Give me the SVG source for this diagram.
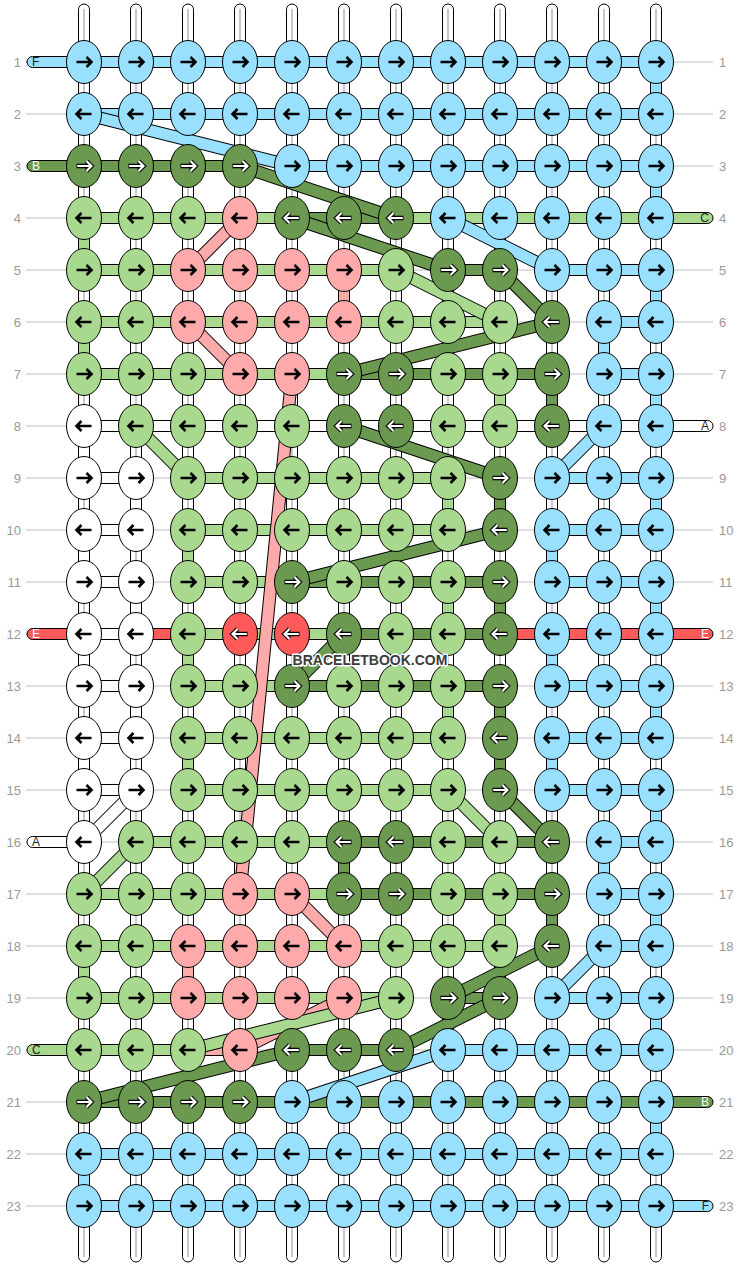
<svg xmlns="http://www.w3.org/2000/svg" width="740" height="1268" viewBox="0 0 740 1268">
<style>
.gl{stroke:#bdbdbd;stroke-width:1}
.wp{fill:#fff;stroke:#000;stroke-width:1}
.wc{stroke:#c8c8c8;stroke-width:2}
.s{stroke:#000;stroke-width:1}
.cA{fill:#fff}.cB{fill:#6a994f}.cC{fill:#a8d98f}.cD{fill:#ffaaaa}.cE{fill:#ff5a5a}.cF{fill:#99e0ff}
.dk{stroke:#000;stroke-width:13}
.dA{stroke:#fff;stroke-width:11}.dB{stroke:#6a994f;stroke-width:11}.dC{stroke:#a8d98f;stroke-width:11}.dD{stroke:#ffaaaa;stroke-width:11}.dF{stroke:#99e0ff;stroke-width:11}
.knots ellipse{stroke:#000;stroke-width:1}
.kA ellipse{fill:#fff}.kB ellipse{fill:#6a994f}.kC ellipse{fill:#a8d98f}.kD ellipse{fill:#ffaaaa}.kE ellipse{fill:#ff5a5a}.kF ellipse{fill:#99e0ff}
.lab{font-family:"Liberation Sans",Arial,sans-serif;font-size:13px;fill:#999}
.pt{font-family:"Liberation Sans",Arial,sans-serif;font-size:12px}
.wm{font-family:"Liberation Sans",Arial,sans-serif;font-size:14px;font-weight:bold;fill:#3c3c3c;stroke:#fff;stroke-width:3;paint-order:stroke;stroke-linejoin:round}
</style>
<defs>
<path id="R" d="M-7.5 0H7M2.5-5L7.5 0 2.5 5" fill="none" stroke="#000" stroke-width="2.6"/>
<path id="L" d="M7.5 0H-7M-2.5-5L-7.5 0-2.5 5" fill="none" stroke="#000" stroke-width="2.6"/>
<g id="Rw" fill="none"><path d="M-7.5 0H7M2.5-5L7.5 0 2.5 5" stroke="#000" stroke-width="4.4"/><path d="M-6.8 0H6.5M2.5-5L7.5 0 2.5 5" stroke="#fff" stroke-width="2.2"/></g>
<g id="Lw" fill="none"><path d="M7.5 0H-7M-2.5-5L-7.5 0-2.5 5" stroke="#000" stroke-width="4.4"/><path d="M6.8 0H-6.5M-2.5-5L-7.5 0-2.5 5" stroke="#fff" stroke-width="2.2"/></g>
</defs>
<rect width="740" height="1268" fill="#fff"/>
<g id="guides">
<line class="gl" x1="26" y1="62" x2="713" y2="62"/><line class="gl" x1="26" y1="114" x2="713" y2="114"/><line class="gl" x1="26" y1="166" x2="713" y2="166"/><line class="gl" x1="26" y1="218" x2="713" y2="218"/><line class="gl" x1="26" y1="270" x2="713" y2="270"/><line class="gl" x1="26" y1="322" x2="713" y2="322"/><line class="gl" x1="26" y1="374" x2="713" y2="374"/><line class="gl" x1="26" y1="426" x2="713" y2="426"/><line class="gl" x1="26" y1="478" x2="713" y2="478"/><line class="gl" x1="26" y1="530" x2="713" y2="530"/><line class="gl" x1="26" y1="582" x2="713" y2="582"/><line class="gl" x1="26" y1="634" x2="713" y2="634"/><line class="gl" x1="26" y1="686" x2="713" y2="686"/><line class="gl" x1="26" y1="738" x2="713" y2="738"/><line class="gl" x1="26" y1="790" x2="713" y2="790"/><line class="gl" x1="26" y1="842" x2="713" y2="842"/><line class="gl" x1="26" y1="894" x2="713" y2="894"/><line class="gl" x1="26" y1="946" x2="713" y2="946"/><line class="gl" x1="26" y1="998" x2="713" y2="998"/><line class="gl" x1="26" y1="1050" x2="713" y2="1050"/><line class="gl" x1="26" y1="1102" x2="713" y2="1102"/><line class="gl" x1="26" y1="1154" x2="713" y2="1154"/><line class="gl" x1="26" y1="1206" x2="713" y2="1206"/>
</g>
<g id="labels" class="lab">
<text x="21" y="66.5" text-anchor="end">1</text><text x="21" y="118.5" text-anchor="end">2</text><text x="21" y="170.5" text-anchor="end">3</text><text x="21" y="222.5" text-anchor="end">4</text><text x="21" y="274.5" text-anchor="end">5</text><text x="21" y="326.5" text-anchor="end">6</text><text x="21" y="378.5" text-anchor="end">7</text><text x="21" y="430.5" text-anchor="end">8</text><text x="21" y="482.5" text-anchor="end">9</text><text x="21" y="534.5" text-anchor="end">10</text><text x="21" y="586.5" text-anchor="end">11</text><text x="21" y="638.5" text-anchor="end">12</text><text x="21" y="690.5" text-anchor="end">13</text><text x="21" y="742.5" text-anchor="end">14</text><text x="21" y="794.5" text-anchor="end">15</text><text x="21" y="846.5" text-anchor="end">16</text><text x="21" y="898.5" text-anchor="end">17</text><text x="21" y="950.5" text-anchor="end">18</text><text x="21" y="1002.5" text-anchor="end">19</text><text x="21" y="1054.5" text-anchor="end">20</text><text x="21" y="1106.5" text-anchor="end">21</text><text x="21" y="1158.5" text-anchor="end">22</text><text x="21" y="1210.5" text-anchor="end">23</text>
<text x="719" y="66.5">1</text><text x="719" y="118.5">2</text><text x="719" y="170.5">3</text><text x="719" y="222.5">4</text><text x="719" y="274.5">5</text><text x="719" y="326.5">6</text><text x="719" y="378.5">7</text><text x="719" y="430.5">8</text><text x="719" y="482.5">9</text><text x="719" y="534.5">10</text><text x="719" y="586.5">11</text><text x="719" y="638.5">12</text><text x="719" y="690.5">13</text><text x="719" y="742.5">14</text><text x="719" y="794.5">15</text><text x="719" y="846.5">16</text><text x="719" y="898.5">17</text><text x="719" y="950.5">18</text><text x="719" y="1002.5">19</text><text x="719" y="1054.5">20</text><text x="719" y="1106.5">21</text><text x="719" y="1158.5">22</text><text x="719" y="1210.5">23</text>
</g>
<g id="warps">
<rect class="wp" x="78.5" y="4" width="11" height="1258" rx="5.5"/><rect class="wp" x="130.5" y="4" width="11" height="1258" rx="5.5"/><rect class="wp" x="182.5" y="4" width="11" height="1258" rx="5.5"/><rect class="wp" x="234.5" y="4" width="11" height="1258" rx="5.5"/><rect class="wp" x="286.5" y="4" width="11" height="1258" rx="5.5"/><rect class="wp" x="338.5" y="4" width="11" height="1258" rx="5.5"/><rect class="wp" x="390.5" y="4" width="11" height="1258" rx="5.5"/><rect class="wp" x="442.5" y="4" width="11" height="1258" rx="5.5"/><rect class="wp" x="494.5" y="4" width="11" height="1258" rx="5.5"/><rect class="wp" x="546.5" y="4" width="11" height="1258" rx="5.5"/><rect class="wp" x="598.5" y="4" width="11" height="1258" rx="5.5"/><rect class="wp" x="650.5" y="4" width="11" height="1258" rx="5.5"/>
<line class="wc" x1="84" y1="9" x2="84" y2="1257"/><line class="wc" x1="136" y1="9" x2="136" y2="1257"/><line class="wc" x1="188" y1="9" x2="188" y2="1257"/><line class="wc" x1="240" y1="9" x2="240" y2="1257"/><line class="wc" x1="292" y1="9" x2="292" y2="1257"/><line class="wc" x1="344" y1="9" x2="344" y2="1257"/><line class="wc" x1="396" y1="9" x2="396" y2="1257"/><line class="wc" x1="448" y1="9" x2="448" y2="1257"/><line class="wc" x1="500" y1="9" x2="500" y2="1257"/><line class="wc" x1="552" y1="9" x2="552" y2="1257"/><line class="wc" x1="604" y1="9" x2="604" y2="1257"/><line class="wc" x1="656" y1="9" x2="656" y2="1257"/>
</g>
<g id="connectors">
<g id="ends">
<rect class="cF s" x="27" y="56.5" width="70" height="11" rx="5.5"/><text class="pt" x="32" y="66.3" fill="#222">F</text>
<rect class="cB s" x="27" y="160.5" width="70" height="11" rx="5.5"/><text class="pt" x="32" y="170.3" fill="#fff">B</text>
<rect class="cE s" x="27" y="628.5" width="70" height="11" rx="5.5"/><text class="pt" x="32" y="638.3" fill="#fff">E</text>
<rect class="cA s" x="27" y="836.5" width="70" height="11" rx="5.5"/><text class="pt" x="32" y="846.3" fill="#222">A</text>
<rect class="cC s" x="27" y="1044.5" width="70" height="11" rx="5.5"/><text class="pt" x="32" y="1054.3" fill="#222">C</text>
<rect class="cC s" x="643" y="212.5" width="70" height="11" rx="5.5"/><text class="pt" x="709" y="222.3" text-anchor="end" fill="#222">C</text>
<rect class="cA s" x="643" y="420.5" width="70" height="11" rx="5.5"/><text class="pt" x="709" y="430.3" text-anchor="end" fill="#222">A</text>
<rect class="cE s" x="643" y="628.5" width="70" height="11" rx="5.5"/><text class="pt" x="709" y="638.3" text-anchor="end" fill="#fff">E</text>
<rect class="cB s" x="643" y="1096.5" width="70" height="11" rx="5.5"/><text class="pt" x="709" y="1106.3" text-anchor="end" fill="#fff">B</text>
<rect class="cF s" x="643" y="1200.5" width="70" height="11" rx="5.5"/><text class="pt" x="709" y="1210.3" text-anchor="end" fill="#222">F</text>
</g>
<g id="rows">
<rect class="cF s" x="84" y="56.5" width="572" height="11"/>
<rect class="cF s" x="84" y="108.5" width="572" height="11"/>
<rect class="cB s" x="84" y="160.5" width="156" height="11"/><rect class="cF s" x="292" y="160.5" width="364" height="11"/>
<rect class="cC s" x="84" y="212.5" width="572" height="11"/><rect class="cB s" x="292" y="212.5" width="104" height="11"/>
<rect class="cC s" x="84" y="264.5" width="312" height="11"/><rect class="cB s" x="448" y="264.5" width="52" height="11"/><rect class="cF s" x="552" y="264.5" width="104" height="11"/>
<rect class="cC s" x="84" y="316.5" width="416" height="11"/><rect class="cF s" x="604" y="316.5" width="52" height="11"/>
<rect class="cC s" x="84" y="368.5" width="260" height="11"/><rect class="cB s" x="344" y="368.5" width="208" height="11"/><rect class="cF s" x="604" y="368.5" width="52" height="11"/>
<rect class="cA s" x="84" y="420.5" width="572" height="11"/>
<rect class="cA s" x="84" y="472.5" width="52" height="11"/><rect class="cC s" x="188" y="472.5" width="260" height="11"/><rect class="cF s" x="552" y="472.5" width="104" height="11"/>
<rect class="cA s" x="84" y="524.5" width="52" height="11"/><rect class="cC s" x="188" y="524.5" width="260" height="11"/><rect class="cF s" x="552" y="524.5" width="104" height="11"/>
<rect class="cA s" x="84" y="576.5" width="52" height="11"/><rect class="cC s" x="188" y="576.5" width="104" height="11"/><rect class="cB s" x="292" y="576.5" width="208" height="11"/><rect class="cF s" x="552" y="576.5" width="104" height="11"/>
<rect class="cA s" x="84" y="628.5" width="52" height="11"/><rect class="cE s" x="136" y="628.5" width="52" height="11"/><rect class="cC s" x="188" y="628.5" width="156" height="11"/><rect class="cB s" x="344" y="628.5" width="156" height="11"/><rect class="cE s" x="500" y="628.5" width="156" height="11"/>
<rect class="cA s" x="84" y="680.5" width="52" height="11"/><rect class="cC s" x="188" y="680.5" width="104" height="11"/><rect class="cB s" x="292" y="680.5" width="208" height="11"/><rect class="cF s" x="552" y="680.5" width="104" height="11"/>
<rect class="cA s" x="84" y="732.5" width="52" height="11"/><rect class="cC s" x="188" y="732.5" width="260" height="11"/><rect class="cF s" x="552" y="732.5" width="104" height="11"/>
<rect class="cA s" x="84" y="784.5" width="52" height="11"/><rect class="cC s" x="188" y="784.5" width="260" height="11"/><rect class="cF s" x="552" y="784.5" width="104" height="11"/>
<rect class="cC s" x="136" y="836.5" width="208" height="11"/><rect class="cB s" x="344" y="836.5" width="208" height="11"/><rect class="cF s" x="604" y="836.5" width="52" height="11"/>
<rect class="cC s" x="84" y="888.5" width="260" height="11"/><rect class="cB s" x="344" y="888.5" width="208" height="11"/><rect class="cF s" x="604" y="888.5" width="52" height="11"/>
<rect class="cC s" x="84" y="940.5" width="416" height="11"/><rect class="cF s" x="604" y="940.5" width="52" height="11"/>
<rect class="cC s" x="84" y="992.5" width="312" height="11"/><rect class="cB s" x="448" y="992.5" width="52" height="11"/><rect class="cF s" x="552" y="992.5" width="104" height="11"/>
<rect class="cC s" x="84" y="1044.5" width="104" height="11"/><rect class="cD s" x="188" y="1044.5" width="52" height="11"/><rect class="cB s" x="292" y="1044.5" width="104" height="11"/><rect class="cF s" x="448" y="1044.5" width="208" height="11"/>
<rect class="cB s" x="84" y="1096.5" width="572" height="11"/>
<rect class="cF s" x="84" y="1148.5" width="572" height="11"/>
<rect class="cF s" x="84" y="1200.5" width="572" height="11"/>
</g>
<g id="verticals">
<rect class="cF s" x="650.5" y="62" width="11" height="52"/><rect class="cF s" x="650.5" y="166" width="11" height="52"/><rect class="cF s" x="650.5" y="270" width="11" height="52"/><rect class="cF s" x="598.5" y="322" width="11" height="52"/><rect class="cF s" x="650.5" y="374" width="11" height="52"/><rect class="cF s" x="650.5" y="478" width="11" height="52"/><rect class="cF s" x="546.5" y="530" width="11" height="52"/><rect class="cF s" x="650.5" y="582" width="11" height="52"/><rect class="cF s" x="546.5" y="634" width="11" height="52"/><rect class="cF s" x="650.5" y="686" width="11" height="52"/><rect class="cF s" x="546.5" y="738" width="11" height="52"/><rect class="cF s" x="650.5" y="790" width="11" height="52"/><rect class="cF s" x="598.5" y="842" width="11" height="52"/><rect class="cF s" x="650.5" y="894" width="11" height="52"/><rect class="cF s" x="650.5" y="998" width="11" height="52"/><rect class="cF s" x="650.5" y="1102" width="11" height="52"/><rect class="cF s" x="78.5" y="1154" width="11" height="52"/>
<rect class="cB s" x="546.5" y="374" width="11" height="52"/><rect class="cB s" x="494.5" y="478" width="11" height="52"/><rect class="cB s" x="494.5" y="582" width="11" height="52"/><rect class="cB s" x="494.5" y="686" width="11" height="104"/><rect class="cB s" x="338.5" y="842" width="11" height="52"/><rect class="cB s" x="546.5" y="894" width="11" height="52"/>
<rect class="cC s" x="78.5" y="218" width="11" height="52"/><rect class="cC s" x="78.5" y="322" width="11" height="52"/><rect class="cC s" x="494.5" y="374" width="11" height="52"/><rect class="cC s" x="442.5" y="478" width="11" height="52"/><rect class="cC s" x="182.5" y="530" width="11" height="52"/><rect class="cC s" x="442.5" y="582" width="11" height="52"/><rect class="cC s" x="182.5" y="634" width="11" height="52"/><rect class="cC s" x="442.5" y="686" width="11" height="52"/><rect class="cC s" x="182.5" y="738" width="11" height="52"/><rect class="cC s" x="494.5" y="894" width="11" height="52"/><rect class="cC s" x="78.5" y="946" width="11" height="52"/>
<rect class="cA s" x="78.5" y="426" width="11" height="52"/><rect class="cA s" x="130.5" y="478" width="11" height="52"/><rect class="cA s" x="78.5" y="530" width="11" height="52"/><rect class="cA s" x="130.5" y="582" width="11" height="52"/><rect class="cA s" x="78.5" y="634" width="11" height="52"/><rect class="cA s" x="130.5" y="686" width="11" height="52"/><rect class="cA s" x="78.5" y="738" width="11" height="52"/>
<rect class="cD s" x="338.5" y="270" width="11" height="52"/><rect class="cD s" x="182.5" y="946" width="11" height="52"/>
</g>
<g id="diagonals">
<line class="dk" x1="84" y1="114" x2="292" y2="166"/><line class="dF" x1="84" y1="114" x2="292" y2="166"/>
<line class="dk" x1="240" y1="166" x2="396" y2="218"/><line class="dB" x1="240" y1="166" x2="396" y2="218"/>
<line class="dk" x1="240" y1="218" x2="188" y2="270"/><line class="dD" x1="240" y1="218" x2="188" y2="270"/>
<line class="dk" x1="292" y1="218" x2="448" y2="270"/><line class="dB" x1="292" y1="218" x2="448" y2="270"/>
<line class="dk" x1="448" y1="218" x2="552" y2="270"/><line class="dF" x1="448" y1="218" x2="552" y2="270"/>
<line class="dk" x1="396" y1="270" x2="500" y2="322"/><line class="dC" x1="396" y1="270" x2="500" y2="322"/>
<line class="dk" x1="500" y1="270" x2="552" y2="322"/><line class="dB" x1="500" y1="270" x2="552" y2="322"/>
<line class="dk" x1="552" y1="322" x2="344" y2="374"/><line class="dB" x1="552" y1="322" x2="344" y2="374"/>
<line class="dk" x1="188" y1="322" x2="240" y2="374"/><line class="dD" x1="188" y1="322" x2="240" y2="374"/>
<line class="dk" x1="136" y1="426" x2="188" y2="478"/><line class="dC" x1="136" y1="426" x2="188" y2="478"/>
<line class="dk" x1="344" y1="426" x2="500" y2="478"/><line class="dB" x1="344" y1="426" x2="500" y2="478"/>
<line class="dk" x1="604" y1="426" x2="552" y2="478"/><line class="dF" x1="604" y1="426" x2="552" y2="478"/>
<line class="dk" x1="500" y1="530" x2="292" y2="582"/><line class="dB" x1="500" y1="530" x2="292" y2="582"/>
<line class="dk" x1="344" y1="634" x2="292" y2="686"/><line class="dB" x1="344" y1="634" x2="292" y2="686"/>
<line class="dk" x1="292" y1="374" x2="240" y2="894"/><line class="dD" x1="292" y1="374" x2="240" y2="894"/>
<line class="dk" x1="136" y1="790" x2="84" y2="842"/><line class="dA" x1="136" y1="790" x2="84" y2="842"/>
<line class="dk" x1="448" y1="790" x2="500" y2="842"/><line class="dC" x1="448" y1="790" x2="500" y2="842"/>
<line class="dk" x1="500" y1="790" x2="552" y2="842"/><line class="dB" x1="500" y1="790" x2="552" y2="842"/>
<line class="dk" x1="136" y1="842" x2="84" y2="894"/><line class="dC" x1="136" y1="842" x2="84" y2="894"/>
<line class="dk" x1="292" y1="894" x2="344" y2="946"/><line class="dD" x1="292" y1="894" x2="344" y2="946"/>
<line class="dk" x1="552" y1="946" x2="448" y2="998"/><line class="dB" x1="552" y1="946" x2="448" y2="998"/>
<line class="dk" x1="604" y1="946" x2="552" y2="998"/><line class="dF" x1="604" y1="946" x2="552" y2="998"/>
<line class="dk" x1="344" y1="998" x2="240" y2="1050"/><line class="dD" x1="344" y1="998" x2="240" y2="1050"/>
<line class="dk" x1="396" y1="998" x2="188" y2="1050"/><line class="dC" x1="396" y1="998" x2="188" y2="1050"/>
<line class="dk" x1="500" y1="998" x2="396" y2="1050"/><line class="dB" x1="500" y1="998" x2="396" y2="1050"/>
<line class="dk" x1="292" y1="1050" x2="84" y2="1102"/><line class="dB" x1="292" y1="1050" x2="84" y2="1102"/>
<line class="dk" x1="448" y1="1050" x2="292" y2="1102"/><line class="dF" x1="448" y1="1050" x2="292" y2="1102"/>
</g>
</g>
<g id="knots" class="knots">
<g id="k1-1" class="kF"><ellipse cx="84" cy="62" rx="17.5" ry="21.5"/><use href="#R" x="84" y="62"/></g>
<g id="k1-2" class="kF"><ellipse cx="136" cy="62" rx="17.5" ry="21.5"/><use href="#R" x="136" y="62"/></g>
<g id="k1-3" class="kF"><ellipse cx="188" cy="62" rx="17.5" ry="21.5"/><use href="#R" x="188" y="62"/></g>
<g id="k1-4" class="kF"><ellipse cx="240" cy="62" rx="17.5" ry="21.5"/><use href="#R" x="240" y="62"/></g>
<g id="k1-5" class="kF"><ellipse cx="292" cy="62" rx="17.5" ry="21.5"/><use href="#R" x="292" y="62"/></g>
<g id="k1-6" class="kF"><ellipse cx="344" cy="62" rx="17.5" ry="21.5"/><use href="#R" x="344" y="62"/></g>
<g id="k1-7" class="kF"><ellipse cx="396" cy="62" rx="17.5" ry="21.5"/><use href="#R" x="396" y="62"/></g>
<g id="k1-8" class="kF"><ellipse cx="448" cy="62" rx="17.5" ry="21.5"/><use href="#R" x="448" y="62"/></g>
<g id="k1-9" class="kF"><ellipse cx="500" cy="62" rx="17.5" ry="21.5"/><use href="#R" x="500" y="62"/></g>
<g id="k1-10" class="kF"><ellipse cx="552" cy="62" rx="17.5" ry="21.5"/><use href="#R" x="552" y="62"/></g>
<g id="k1-11" class="kF"><ellipse cx="604" cy="62" rx="17.5" ry="21.5"/><use href="#R" x="604" y="62"/></g>
<g id="k1-12" class="kF"><ellipse cx="656" cy="62" rx="17.5" ry="21.5"/><use href="#R" x="656" y="62"/></g>
<g id="k2-1" class="kF"><ellipse cx="84" cy="114" rx="17.5" ry="21.5"/><use href="#L" x="84" y="114"/></g>
<g id="k2-2" class="kF"><ellipse cx="136" cy="114" rx="17.5" ry="21.5"/><use href="#L" x="136" y="114"/></g>
<g id="k2-3" class="kF"><ellipse cx="188" cy="114" rx="17.5" ry="21.5"/><use href="#L" x="188" y="114"/></g>
<g id="k2-4" class="kF"><ellipse cx="240" cy="114" rx="17.5" ry="21.5"/><use href="#L" x="240" y="114"/></g>
<g id="k2-5" class="kF"><ellipse cx="292" cy="114" rx="17.5" ry="21.5"/><use href="#L" x="292" y="114"/></g>
<g id="k2-6" class="kF"><ellipse cx="344" cy="114" rx="17.5" ry="21.5"/><use href="#L" x="344" y="114"/></g>
<g id="k2-7" class="kF"><ellipse cx="396" cy="114" rx="17.5" ry="21.5"/><use href="#L" x="396" y="114"/></g>
<g id="k2-8" class="kF"><ellipse cx="448" cy="114" rx="17.5" ry="21.5"/><use href="#L" x="448" y="114"/></g>
<g id="k2-9" class="kF"><ellipse cx="500" cy="114" rx="17.5" ry="21.5"/><use href="#L" x="500" y="114"/></g>
<g id="k2-10" class="kF"><ellipse cx="552" cy="114" rx="17.5" ry="21.5"/><use href="#L" x="552" y="114"/></g>
<g id="k2-11" class="kF"><ellipse cx="604" cy="114" rx="17.5" ry="21.5"/><use href="#L" x="604" y="114"/></g>
<g id="k2-12" class="kF"><ellipse cx="656" cy="114" rx="17.5" ry="21.5"/><use href="#L" x="656" y="114"/></g>
<g id="k3-1" class="kB"><ellipse cx="84" cy="166" rx="17.5" ry="21.5"/><use href="#Rw" x="84" y="166"/></g>
<g id="k3-2" class="kB"><ellipse cx="136" cy="166" rx="17.5" ry="21.5"/><use href="#Rw" x="136" y="166"/></g>
<g id="k3-3" class="kB"><ellipse cx="188" cy="166" rx="17.5" ry="21.5"/><use href="#Rw" x="188" y="166"/></g>
<g id="k3-4" class="kB"><ellipse cx="240" cy="166" rx="17.5" ry="21.5"/><use href="#Rw" x="240" y="166"/></g>
<g id="k3-5" class="kF"><ellipse cx="292" cy="166" rx="17.5" ry="21.5"/><use href="#R" x="292" y="166"/></g>
<g id="k3-6" class="kF"><ellipse cx="344" cy="166" rx="17.5" ry="21.5"/><use href="#R" x="344" y="166"/></g>
<g id="k3-7" class="kF"><ellipse cx="396" cy="166" rx="17.5" ry="21.5"/><use href="#R" x="396" y="166"/></g>
<g id="k3-8" class="kF"><ellipse cx="448" cy="166" rx="17.5" ry="21.5"/><use href="#R" x="448" y="166"/></g>
<g id="k3-9" class="kF"><ellipse cx="500" cy="166" rx="17.5" ry="21.5"/><use href="#R" x="500" y="166"/></g>
<g id="k3-10" class="kF"><ellipse cx="552" cy="166" rx="17.5" ry="21.5"/><use href="#R" x="552" y="166"/></g>
<g id="k3-11" class="kF"><ellipse cx="604" cy="166" rx="17.5" ry="21.5"/><use href="#R" x="604" y="166"/></g>
<g id="k3-12" class="kF"><ellipse cx="656" cy="166" rx="17.5" ry="21.5"/><use href="#R" x="656" y="166"/></g>
<g id="k4-1" class="kC"><ellipse cx="84" cy="218" rx="17.5" ry="21.5"/><use href="#L" x="84" y="218"/></g>
<g id="k4-2" class="kC"><ellipse cx="136" cy="218" rx="17.5" ry="21.5"/><use href="#L" x="136" y="218"/></g>
<g id="k4-3" class="kC"><ellipse cx="188" cy="218" rx="17.5" ry="21.5"/><use href="#L" x="188" y="218"/></g>
<g id="k4-4" class="kD"><ellipse cx="240" cy="218" rx="17.5" ry="21.5"/><use href="#L" x="240" y="218"/></g>
<g id="k4-5" class="kB"><ellipse cx="292" cy="218" rx="17.5" ry="21.5"/><use href="#Lw" x="292" y="218"/></g>
<g id="k4-6" class="kB"><ellipse cx="344" cy="218" rx="17.5" ry="21.5"/><use href="#Lw" x="344" y="218"/></g>
<g id="k4-7" class="kB"><ellipse cx="396" cy="218" rx="17.5" ry="21.5"/><use href="#Lw" x="396" y="218"/></g>
<g id="k4-8" class="kF"><ellipse cx="448" cy="218" rx="17.5" ry="21.5"/><use href="#L" x="448" y="218"/></g>
<g id="k4-9" class="kF"><ellipse cx="500" cy="218" rx="17.5" ry="21.5"/><use href="#L" x="500" y="218"/></g>
<g id="k4-10" class="kF"><ellipse cx="552" cy="218" rx="17.5" ry="21.5"/><use href="#L" x="552" y="218"/></g>
<g id="k4-11" class="kF"><ellipse cx="604" cy="218" rx="17.5" ry="21.5"/><use href="#L" x="604" y="218"/></g>
<g id="k4-12" class="kF"><ellipse cx="656" cy="218" rx="17.5" ry="21.5"/><use href="#L" x="656" y="218"/></g>
<g id="k5-1" class="kC"><ellipse cx="84" cy="270" rx="17.5" ry="21.5"/><use href="#R" x="84" y="270"/></g>
<g id="k5-2" class="kC"><ellipse cx="136" cy="270" rx="17.5" ry="21.5"/><use href="#R" x="136" y="270"/></g>
<g id="k5-3" class="kD"><ellipse cx="188" cy="270" rx="17.5" ry="21.5"/><use href="#R" x="188" y="270"/></g>
<g id="k5-4" class="kD"><ellipse cx="240" cy="270" rx="17.5" ry="21.5"/><use href="#R" x="240" y="270"/></g>
<g id="k5-5" class="kD"><ellipse cx="292" cy="270" rx="17.5" ry="21.5"/><use href="#R" x="292" y="270"/></g>
<g id="k5-6" class="kD"><ellipse cx="344" cy="270" rx="17.5" ry="21.5"/><use href="#R" x="344" y="270"/></g>
<g id="k5-7" class="kC"><ellipse cx="396" cy="270" rx="17.5" ry="21.5"/><use href="#R" x="396" y="270"/></g>
<g id="k5-8" class="kB"><ellipse cx="448" cy="270" rx="17.5" ry="21.5"/><use href="#Rw" x="448" y="270"/></g>
<g id="k5-9" class="kB"><ellipse cx="500" cy="270" rx="17.5" ry="21.5"/><use href="#Rw" x="500" y="270"/></g>
<g id="k5-10" class="kF"><ellipse cx="552" cy="270" rx="17.5" ry="21.5"/><use href="#R" x="552" y="270"/></g>
<g id="k5-11" class="kF"><ellipse cx="604" cy="270" rx="17.5" ry="21.5"/><use href="#R" x="604" y="270"/></g>
<g id="k5-12" class="kF"><ellipse cx="656" cy="270" rx="17.5" ry="21.5"/><use href="#R" x="656" y="270"/></g>
<g id="k6-1" class="kC"><ellipse cx="84" cy="322" rx="17.5" ry="21.5"/><use href="#L" x="84" y="322"/></g>
<g id="k6-2" class="kC"><ellipse cx="136" cy="322" rx="17.5" ry="21.5"/><use href="#L" x="136" y="322"/></g>
<g id="k6-3" class="kD"><ellipse cx="188" cy="322" rx="17.5" ry="21.5"/><use href="#L" x="188" y="322"/></g>
<g id="k6-4" class="kD"><ellipse cx="240" cy="322" rx="17.5" ry="21.5"/><use href="#L" x="240" y="322"/></g>
<g id="k6-5" class="kD"><ellipse cx="292" cy="322" rx="17.5" ry="21.5"/><use href="#L" x="292" y="322"/></g>
<g id="k6-6" class="kD"><ellipse cx="344" cy="322" rx="17.5" ry="21.5"/><use href="#L" x="344" y="322"/></g>
<g id="k6-7" class="kC"><ellipse cx="396" cy="322" rx="17.5" ry="21.5"/><use href="#L" x="396" y="322"/></g>
<g id="k6-8" class="kC"><ellipse cx="448" cy="322" rx="17.5" ry="21.5"/><use href="#L" x="448" y="322"/></g>
<g id="k6-9" class="kC"><ellipse cx="500" cy="322" rx="17.5" ry="21.5"/><use href="#L" x="500" y="322"/></g>
<g id="k6-10" class="kB"><ellipse cx="552" cy="322" rx="17.5" ry="21.5"/><use href="#Lw" x="552" y="322"/></g>
<g id="k6-11" class="kF"><ellipse cx="604" cy="322" rx="17.5" ry="21.5"/><use href="#L" x="604" y="322"/></g>
<g id="k6-12" class="kF"><ellipse cx="656" cy="322" rx="17.5" ry="21.5"/><use href="#L" x="656" y="322"/></g>
<g id="k7-1" class="kC"><ellipse cx="84" cy="374" rx="17.5" ry="21.5"/><use href="#R" x="84" y="374"/></g>
<g id="k7-2" class="kC"><ellipse cx="136" cy="374" rx="17.5" ry="21.5"/><use href="#R" x="136" y="374"/></g>
<g id="k7-3" class="kC"><ellipse cx="188" cy="374" rx="17.5" ry="21.5"/><use href="#R" x="188" y="374"/></g>
<g id="k7-4" class="kD"><ellipse cx="240" cy="374" rx="17.5" ry="21.5"/><use href="#R" x="240" y="374"/></g>
<g id="k7-5" class="kD"><ellipse cx="292" cy="374" rx="17.5" ry="21.5"/><use href="#R" x="292" y="374"/></g>
<g id="k7-6" class="kB"><ellipse cx="344" cy="374" rx="17.5" ry="21.5"/><use href="#Rw" x="344" y="374"/></g>
<g id="k7-7" class="kB"><ellipse cx="396" cy="374" rx="17.5" ry="21.5"/><use href="#Rw" x="396" y="374"/></g>
<g id="k7-8" class="kC"><ellipse cx="448" cy="374" rx="17.5" ry="21.5"/><use href="#R" x="448" y="374"/></g>
<g id="k7-9" class="kC"><ellipse cx="500" cy="374" rx="17.5" ry="21.5"/><use href="#R" x="500" y="374"/></g>
<g id="k7-10" class="kB"><ellipse cx="552" cy="374" rx="17.5" ry="21.5"/><use href="#Rw" x="552" y="374"/></g>
<g id="k7-11" class="kF"><ellipse cx="604" cy="374" rx="17.5" ry="21.5"/><use href="#R" x="604" y="374"/></g>
<g id="k7-12" class="kF"><ellipse cx="656" cy="374" rx="17.5" ry="21.5"/><use href="#R" x="656" y="374"/></g>
<g id="k8-1" class="kA"><ellipse cx="84" cy="426" rx="17.5" ry="21.5"/><use href="#L" x="84" y="426"/></g>
<g id="k8-2" class="kC"><ellipse cx="136" cy="426" rx="17.5" ry="21.5"/><use href="#L" x="136" y="426"/></g>
<g id="k8-3" class="kC"><ellipse cx="188" cy="426" rx="17.5" ry="21.5"/><use href="#L" x="188" y="426"/></g>
<g id="k8-4" class="kC"><ellipse cx="240" cy="426" rx="17.5" ry="21.5"/><use href="#L" x="240" y="426"/></g>
<g id="k8-5" class="kC"><ellipse cx="292" cy="426" rx="17.5" ry="21.5"/><use href="#L" x="292" y="426"/></g>
<g id="k8-6" class="kB"><ellipse cx="344" cy="426" rx="17.5" ry="21.5"/><use href="#Lw" x="344" y="426"/></g>
<g id="k8-7" class="kB"><ellipse cx="396" cy="426" rx="17.5" ry="21.5"/><use href="#Lw" x="396" y="426"/></g>
<g id="k8-8" class="kC"><ellipse cx="448" cy="426" rx="17.5" ry="21.5"/><use href="#L" x="448" y="426"/></g>
<g id="k8-9" class="kC"><ellipse cx="500" cy="426" rx="17.5" ry="21.5"/><use href="#L" x="500" y="426"/></g>
<g id="k8-10" class="kB"><ellipse cx="552" cy="426" rx="17.5" ry="21.5"/><use href="#Lw" x="552" y="426"/></g>
<g id="k8-11" class="kF"><ellipse cx="604" cy="426" rx="17.5" ry="21.5"/><use href="#L" x="604" y="426"/></g>
<g id="k8-12" class="kF"><ellipse cx="656" cy="426" rx="17.5" ry="21.5"/><use href="#L" x="656" y="426"/></g>
<g id="k9-1" class="kA"><ellipse cx="84" cy="478" rx="17.5" ry="21.5"/><use href="#R" x="84" y="478"/></g>
<g id="k9-2" class="kA"><ellipse cx="136" cy="478" rx="17.5" ry="21.5"/><use href="#R" x="136" y="478"/></g>
<g id="k9-3" class="kC"><ellipse cx="188" cy="478" rx="17.5" ry="21.5"/><use href="#R" x="188" y="478"/></g>
<g id="k9-4" class="kC"><ellipse cx="240" cy="478" rx="17.5" ry="21.5"/><use href="#R" x="240" y="478"/></g>
<g id="k9-5" class="kC"><ellipse cx="292" cy="478" rx="17.5" ry="21.5"/><use href="#R" x="292" y="478"/></g>
<g id="k9-6" class="kC"><ellipse cx="344" cy="478" rx="17.5" ry="21.5"/><use href="#R" x="344" y="478"/></g>
<g id="k9-7" class="kC"><ellipse cx="396" cy="478" rx="17.5" ry="21.5"/><use href="#R" x="396" y="478"/></g>
<g id="k9-8" class="kC"><ellipse cx="448" cy="478" rx="17.5" ry="21.5"/><use href="#R" x="448" y="478"/></g>
<g id="k9-9" class="kB"><ellipse cx="500" cy="478" rx="17.5" ry="21.5"/><use href="#Rw" x="500" y="478"/></g>
<g id="k9-10" class="kF"><ellipse cx="552" cy="478" rx="17.5" ry="21.5"/><use href="#R" x="552" y="478"/></g>
<g id="k9-11" class="kF"><ellipse cx="604" cy="478" rx="17.5" ry="21.5"/><use href="#R" x="604" y="478"/></g>
<g id="k9-12" class="kF"><ellipse cx="656" cy="478" rx="17.5" ry="21.5"/><use href="#R" x="656" y="478"/></g>
<g id="k10-1" class="kA"><ellipse cx="84" cy="530" rx="17.5" ry="21.5"/><use href="#L" x="84" y="530"/></g>
<g id="k10-2" class="kA"><ellipse cx="136" cy="530" rx="17.5" ry="21.5"/><use href="#L" x="136" y="530"/></g>
<g id="k10-3" class="kC"><ellipse cx="188" cy="530" rx="17.5" ry="21.5"/><use href="#L" x="188" y="530"/></g>
<g id="k10-4" class="kC"><ellipse cx="240" cy="530" rx="17.5" ry="21.5"/><use href="#L" x="240" y="530"/></g>
<g id="k10-5" class="kC"><ellipse cx="292" cy="530" rx="17.5" ry="21.5"/><use href="#L" x="292" y="530"/></g>
<g id="k10-6" class="kC"><ellipse cx="344" cy="530" rx="17.5" ry="21.5"/><use href="#L" x="344" y="530"/></g>
<g id="k10-7" class="kC"><ellipse cx="396" cy="530" rx="17.5" ry="21.5"/><use href="#L" x="396" y="530"/></g>
<g id="k10-8" class="kC"><ellipse cx="448" cy="530" rx="17.5" ry="21.5"/><use href="#L" x="448" y="530"/></g>
<g id="k10-9" class="kB"><ellipse cx="500" cy="530" rx="17.5" ry="21.5"/><use href="#Lw" x="500" y="530"/></g>
<g id="k10-10" class="kF"><ellipse cx="552" cy="530" rx="17.5" ry="21.5"/><use href="#L" x="552" y="530"/></g>
<g id="k10-11" class="kF"><ellipse cx="604" cy="530" rx="17.5" ry="21.5"/><use href="#L" x="604" y="530"/></g>
<g id="k10-12" class="kF"><ellipse cx="656" cy="530" rx="17.5" ry="21.5"/><use href="#L" x="656" y="530"/></g>
<g id="k11-1" class="kA"><ellipse cx="84" cy="582" rx="17.5" ry="21.5"/><use href="#R" x="84" y="582"/></g>
<g id="k11-2" class="kA"><ellipse cx="136" cy="582" rx="17.5" ry="21.5"/><use href="#R" x="136" y="582"/></g>
<g id="k11-3" class="kC"><ellipse cx="188" cy="582" rx="17.5" ry="21.5"/><use href="#R" x="188" y="582"/></g>
<g id="k11-4" class="kC"><ellipse cx="240" cy="582" rx="17.5" ry="21.5"/><use href="#R" x="240" y="582"/></g>
<g id="k11-5" class="kB"><ellipse cx="292" cy="582" rx="17.5" ry="21.5"/><use href="#Rw" x="292" y="582"/></g>
<g id="k11-6" class="kC"><ellipse cx="344" cy="582" rx="17.5" ry="21.5"/><use href="#R" x="344" y="582"/></g>
<g id="k11-7" class="kC"><ellipse cx="396" cy="582" rx="17.5" ry="21.5"/><use href="#R" x="396" y="582"/></g>
<g id="k11-8" class="kC"><ellipse cx="448" cy="582" rx="17.5" ry="21.5"/><use href="#R" x="448" y="582"/></g>
<g id="k11-9" class="kB"><ellipse cx="500" cy="582" rx="17.5" ry="21.5"/><use href="#Rw" x="500" y="582"/></g>
<g id="k11-10" class="kF"><ellipse cx="552" cy="582" rx="17.5" ry="21.5"/><use href="#R" x="552" y="582"/></g>
<g id="k11-11" class="kF"><ellipse cx="604" cy="582" rx="17.5" ry="21.5"/><use href="#R" x="604" y="582"/></g>
<g id="k11-12" class="kF"><ellipse cx="656" cy="582" rx="17.5" ry="21.5"/><use href="#R" x="656" y="582"/></g>
<g id="k12-1" class="kA"><ellipse cx="84" cy="634" rx="17.5" ry="21.5"/><use href="#L" x="84" y="634"/></g>
<g id="k12-2" class="kA"><ellipse cx="136" cy="634" rx="17.5" ry="21.5"/><use href="#L" x="136" y="634"/></g>
<g id="k12-3" class="kC"><ellipse cx="188" cy="634" rx="17.5" ry="21.5"/><use href="#L" x="188" y="634"/></g>
<g id="k12-4" class="kE"><ellipse cx="240" cy="634" rx="17.5" ry="21.5"/><use href="#Lw" x="240" y="634"/></g>
<g id="k12-5" class="kE"><ellipse cx="292" cy="634" rx="17.5" ry="21.5"/><use href="#Lw" x="292" y="634"/></g>
<g id="k12-6" class="kB"><ellipse cx="344" cy="634" rx="17.5" ry="21.5"/><use href="#Lw" x="344" y="634"/></g>
<g id="k12-7" class="kC"><ellipse cx="396" cy="634" rx="17.5" ry="21.5"/><use href="#L" x="396" y="634"/></g>
<g id="k12-8" class="kC"><ellipse cx="448" cy="634" rx="17.5" ry="21.5"/><use href="#L" x="448" y="634"/></g>
<g id="k12-9" class="kB"><ellipse cx="500" cy="634" rx="17.5" ry="21.5"/><use href="#Lw" x="500" y="634"/></g>
<g id="k12-10" class="kF"><ellipse cx="552" cy="634" rx="17.5" ry="21.5"/><use href="#L" x="552" y="634"/></g>
<g id="k12-11" class="kF"><ellipse cx="604" cy="634" rx="17.5" ry="21.5"/><use href="#L" x="604" y="634"/></g>
<g id="k12-12" class="kF"><ellipse cx="656" cy="634" rx="17.5" ry="21.5"/><use href="#L" x="656" y="634"/></g>
<g id="k13-1" class="kA"><ellipse cx="84" cy="686" rx="17.5" ry="21.5"/><use href="#R" x="84" y="686"/></g>
<g id="k13-2" class="kA"><ellipse cx="136" cy="686" rx="17.5" ry="21.5"/><use href="#R" x="136" y="686"/></g>
<g id="k13-3" class="kC"><ellipse cx="188" cy="686" rx="17.5" ry="21.5"/><use href="#R" x="188" y="686"/></g>
<g id="k13-4" class="kC"><ellipse cx="240" cy="686" rx="17.5" ry="21.5"/><use href="#R" x="240" y="686"/></g>
<g id="k13-5" class="kB"><ellipse cx="292" cy="686" rx="17.5" ry="21.5"/><use href="#Rw" x="292" y="686"/></g>
<g id="k13-6" class="kC"><ellipse cx="344" cy="686" rx="17.5" ry="21.5"/><use href="#R" x="344" y="686"/></g>
<g id="k13-7" class="kC"><ellipse cx="396" cy="686" rx="17.5" ry="21.5"/><use href="#R" x="396" y="686"/></g>
<g id="k13-8" class="kC"><ellipse cx="448" cy="686" rx="17.5" ry="21.5"/><use href="#R" x="448" y="686"/></g>
<g id="k13-9" class="kB"><ellipse cx="500" cy="686" rx="17.5" ry="21.5"/><use href="#Rw" x="500" y="686"/></g>
<g id="k13-10" class="kF"><ellipse cx="552" cy="686" rx="17.5" ry="21.5"/><use href="#R" x="552" y="686"/></g>
<g id="k13-11" class="kF"><ellipse cx="604" cy="686" rx="17.5" ry="21.5"/><use href="#R" x="604" y="686"/></g>
<g id="k13-12" class="kF"><ellipse cx="656" cy="686" rx="17.5" ry="21.5"/><use href="#R" x="656" y="686"/></g>
<g id="k14-1" class="kA"><ellipse cx="84" cy="738" rx="17.5" ry="21.5"/><use href="#L" x="84" y="738"/></g>
<g id="k14-2" class="kA"><ellipse cx="136" cy="738" rx="17.5" ry="21.5"/><use href="#L" x="136" y="738"/></g>
<g id="k14-3" class="kC"><ellipse cx="188" cy="738" rx="17.5" ry="21.5"/><use href="#L" x="188" y="738"/></g>
<g id="k14-4" class="kC"><ellipse cx="240" cy="738" rx="17.5" ry="21.5"/><use href="#L" x="240" y="738"/></g>
<g id="k14-5" class="kC"><ellipse cx="292" cy="738" rx="17.5" ry="21.5"/><use href="#L" x="292" y="738"/></g>
<g id="k14-6" class="kC"><ellipse cx="344" cy="738" rx="17.5" ry="21.5"/><use href="#L" x="344" y="738"/></g>
<g id="k14-7" class="kC"><ellipse cx="396" cy="738" rx="17.5" ry="21.5"/><use href="#L" x="396" y="738"/></g>
<g id="k14-8" class="kC"><ellipse cx="448" cy="738" rx="17.5" ry="21.5"/><use href="#L" x="448" y="738"/></g>
<g id="k14-9" class="kB"><ellipse cx="500" cy="738" rx="17.5" ry="21.5"/><use href="#Lw" x="500" y="738"/></g>
<g id="k14-10" class="kF"><ellipse cx="552" cy="738" rx="17.5" ry="21.5"/><use href="#L" x="552" y="738"/></g>
<g id="k14-11" class="kF"><ellipse cx="604" cy="738" rx="17.5" ry="21.5"/><use href="#L" x="604" y="738"/></g>
<g id="k14-12" class="kF"><ellipse cx="656" cy="738" rx="17.5" ry="21.5"/><use href="#L" x="656" y="738"/></g>
<g id="k15-1" class="kA"><ellipse cx="84" cy="790" rx="17.5" ry="21.5"/><use href="#R" x="84" y="790"/></g>
<g id="k15-2" class="kA"><ellipse cx="136" cy="790" rx="17.5" ry="21.5"/><use href="#R" x="136" y="790"/></g>
<g id="k15-3" class="kC"><ellipse cx="188" cy="790" rx="17.5" ry="21.5"/><use href="#R" x="188" y="790"/></g>
<g id="k15-4" class="kC"><ellipse cx="240" cy="790" rx="17.5" ry="21.5"/><use href="#R" x="240" y="790"/></g>
<g id="k15-5" class="kC"><ellipse cx="292" cy="790" rx="17.5" ry="21.5"/><use href="#R" x="292" y="790"/></g>
<g id="k15-6" class="kC"><ellipse cx="344" cy="790" rx="17.5" ry="21.5"/><use href="#R" x="344" y="790"/></g>
<g id="k15-7" class="kC"><ellipse cx="396" cy="790" rx="17.5" ry="21.5"/><use href="#R" x="396" y="790"/></g>
<g id="k15-8" class="kC"><ellipse cx="448" cy="790" rx="17.5" ry="21.5"/><use href="#R" x="448" y="790"/></g>
<g id="k15-9" class="kB"><ellipse cx="500" cy="790" rx="17.5" ry="21.5"/><use href="#Rw" x="500" y="790"/></g>
<g id="k15-10" class="kF"><ellipse cx="552" cy="790" rx="17.5" ry="21.5"/><use href="#R" x="552" y="790"/></g>
<g id="k15-11" class="kF"><ellipse cx="604" cy="790" rx="17.5" ry="21.5"/><use href="#R" x="604" y="790"/></g>
<g id="k15-12" class="kF"><ellipse cx="656" cy="790" rx="17.5" ry="21.5"/><use href="#R" x="656" y="790"/></g>
<g id="k16-1" class="kA"><ellipse cx="84" cy="842" rx="17.5" ry="21.5"/><use href="#L" x="84" y="842"/></g>
<g id="k16-2" class="kC"><ellipse cx="136" cy="842" rx="17.5" ry="21.5"/><use href="#L" x="136" y="842"/></g>
<g id="k16-3" class="kC"><ellipse cx="188" cy="842" rx="17.5" ry="21.5"/><use href="#L" x="188" y="842"/></g>
<g id="k16-4" class="kC"><ellipse cx="240" cy="842" rx="17.5" ry="21.5"/><use href="#L" x="240" y="842"/></g>
<g id="k16-5" class="kC"><ellipse cx="292" cy="842" rx="17.5" ry="21.5"/><use href="#L" x="292" y="842"/></g>
<g id="k16-6" class="kB"><ellipse cx="344" cy="842" rx="17.5" ry="21.5"/><use href="#Lw" x="344" y="842"/></g>
<g id="k16-7" class="kB"><ellipse cx="396" cy="842" rx="17.5" ry="21.5"/><use href="#Lw" x="396" y="842"/></g>
<g id="k16-8" class="kC"><ellipse cx="448" cy="842" rx="17.5" ry="21.5"/><use href="#L" x="448" y="842"/></g>
<g id="k16-9" class="kC"><ellipse cx="500" cy="842" rx="17.5" ry="21.5"/><use href="#L" x="500" y="842"/></g>
<g id="k16-10" class="kB"><ellipse cx="552" cy="842" rx="17.5" ry="21.5"/><use href="#Lw" x="552" y="842"/></g>
<g id="k16-11" class="kF"><ellipse cx="604" cy="842" rx="17.5" ry="21.5"/><use href="#L" x="604" y="842"/></g>
<g id="k16-12" class="kF"><ellipse cx="656" cy="842" rx="17.5" ry="21.5"/><use href="#L" x="656" y="842"/></g>
<g id="k17-1" class="kC"><ellipse cx="84" cy="894" rx="17.5" ry="21.5"/><use href="#R" x="84" y="894"/></g>
<g id="k17-2" class="kC"><ellipse cx="136" cy="894" rx="17.5" ry="21.5"/><use href="#R" x="136" y="894"/></g>
<g id="k17-3" class="kC"><ellipse cx="188" cy="894" rx="17.5" ry="21.5"/><use href="#R" x="188" y="894"/></g>
<g id="k17-4" class="kD"><ellipse cx="240" cy="894" rx="17.5" ry="21.5"/><use href="#R" x="240" y="894"/></g>
<g id="k17-5" class="kD"><ellipse cx="292" cy="894" rx="17.5" ry="21.5"/><use href="#R" x="292" y="894"/></g>
<g id="k17-6" class="kB"><ellipse cx="344" cy="894" rx="17.5" ry="21.5"/><use href="#Rw" x="344" y="894"/></g>
<g id="k17-7" class="kB"><ellipse cx="396" cy="894" rx="17.5" ry="21.5"/><use href="#Rw" x="396" y="894"/></g>
<g id="k17-8" class="kC"><ellipse cx="448" cy="894" rx="17.5" ry="21.5"/><use href="#R" x="448" y="894"/></g>
<g id="k17-9" class="kC"><ellipse cx="500" cy="894" rx="17.5" ry="21.5"/><use href="#R" x="500" y="894"/></g>
<g id="k17-10" class="kB"><ellipse cx="552" cy="894" rx="17.5" ry="21.5"/><use href="#Rw" x="552" y="894"/></g>
<g id="k17-11" class="kF"><ellipse cx="604" cy="894" rx="17.5" ry="21.5"/><use href="#R" x="604" y="894"/></g>
<g id="k17-12" class="kF"><ellipse cx="656" cy="894" rx="17.5" ry="21.5"/><use href="#R" x="656" y="894"/></g>
<g id="k18-1" class="kC"><ellipse cx="84" cy="946" rx="17.5" ry="21.5"/><use href="#L" x="84" y="946"/></g>
<g id="k18-2" class="kC"><ellipse cx="136" cy="946" rx="17.5" ry="21.5"/><use href="#L" x="136" y="946"/></g>
<g id="k18-3" class="kD"><ellipse cx="188" cy="946" rx="17.5" ry="21.5"/><use href="#L" x="188" y="946"/></g>
<g id="k18-4" class="kD"><ellipse cx="240" cy="946" rx="17.5" ry="21.5"/><use href="#L" x="240" y="946"/></g>
<g id="k18-5" class="kD"><ellipse cx="292" cy="946" rx="17.5" ry="21.5"/><use href="#L" x="292" y="946"/></g>
<g id="k18-6" class="kD"><ellipse cx="344" cy="946" rx="17.5" ry="21.5"/><use href="#L" x="344" y="946"/></g>
<g id="k18-7" class="kC"><ellipse cx="396" cy="946" rx="17.5" ry="21.5"/><use href="#L" x="396" y="946"/></g>
<g id="k18-8" class="kC"><ellipse cx="448" cy="946" rx="17.5" ry="21.5"/><use href="#L" x="448" y="946"/></g>
<g id="k18-9" class="kC"><ellipse cx="500" cy="946" rx="17.5" ry="21.5"/><use href="#L" x="500" y="946"/></g>
<g id="k18-10" class="kB"><ellipse cx="552" cy="946" rx="17.5" ry="21.5"/><use href="#Lw" x="552" y="946"/></g>
<g id="k18-11" class="kF"><ellipse cx="604" cy="946" rx="17.5" ry="21.5"/><use href="#L" x="604" y="946"/></g>
<g id="k18-12" class="kF"><ellipse cx="656" cy="946" rx="17.5" ry="21.5"/><use href="#L" x="656" y="946"/></g>
<g id="k19-1" class="kC"><ellipse cx="84" cy="998" rx="17.5" ry="21.5"/><use href="#R" x="84" y="998"/></g>
<g id="k19-2" class="kC"><ellipse cx="136" cy="998" rx="17.5" ry="21.5"/><use href="#R" x="136" y="998"/></g>
<g id="k19-3" class="kD"><ellipse cx="188" cy="998" rx="17.5" ry="21.5"/><use href="#R" x="188" y="998"/></g>
<g id="k19-4" class="kD"><ellipse cx="240" cy="998" rx="17.5" ry="21.5"/><use href="#R" x="240" y="998"/></g>
<g id="k19-5" class="kD"><ellipse cx="292" cy="998" rx="17.5" ry="21.5"/><use href="#R" x="292" y="998"/></g>
<g id="k19-6" class="kD"><ellipse cx="344" cy="998" rx="17.5" ry="21.5"/><use href="#R" x="344" y="998"/></g>
<g id="k19-7" class="kC"><ellipse cx="396" cy="998" rx="17.5" ry="21.5"/><use href="#R" x="396" y="998"/></g>
<g id="k19-8" class="kB"><ellipse cx="448" cy="998" rx="17.5" ry="21.5"/><use href="#Rw" x="448" y="998"/></g>
<g id="k19-9" class="kB"><ellipse cx="500" cy="998" rx="17.5" ry="21.5"/><use href="#Rw" x="500" y="998"/></g>
<g id="k19-10" class="kF"><ellipse cx="552" cy="998" rx="17.5" ry="21.5"/><use href="#R" x="552" y="998"/></g>
<g id="k19-11" class="kF"><ellipse cx="604" cy="998" rx="17.5" ry="21.5"/><use href="#R" x="604" y="998"/></g>
<g id="k19-12" class="kF"><ellipse cx="656" cy="998" rx="17.5" ry="21.5"/><use href="#R" x="656" y="998"/></g>
<g id="k20-1" class="kC"><ellipse cx="84" cy="1050" rx="17.5" ry="21.5"/><use href="#L" x="84" y="1050"/></g>
<g id="k20-2" class="kC"><ellipse cx="136" cy="1050" rx="17.5" ry="21.5"/><use href="#L" x="136" y="1050"/></g>
<g id="k20-3" class="kC"><ellipse cx="188" cy="1050" rx="17.5" ry="21.5"/><use href="#L" x="188" y="1050"/></g>
<g id="k20-4" class="kD"><ellipse cx="240" cy="1050" rx="17.5" ry="21.5"/><use href="#L" x="240" y="1050"/></g>
<g id="k20-5" class="kB"><ellipse cx="292" cy="1050" rx="17.5" ry="21.5"/><use href="#Lw" x="292" y="1050"/></g>
<g id="k20-6" class="kB"><ellipse cx="344" cy="1050" rx="17.5" ry="21.5"/><use href="#Lw" x="344" y="1050"/></g>
<g id="k20-7" class="kB"><ellipse cx="396" cy="1050" rx="17.5" ry="21.5"/><use href="#Lw" x="396" y="1050"/></g>
<g id="k20-8" class="kF"><ellipse cx="448" cy="1050" rx="17.5" ry="21.5"/><use href="#L" x="448" y="1050"/></g>
<g id="k20-9" class="kF"><ellipse cx="500" cy="1050" rx="17.5" ry="21.5"/><use href="#L" x="500" y="1050"/></g>
<g id="k20-10" class="kF"><ellipse cx="552" cy="1050" rx="17.5" ry="21.5"/><use href="#L" x="552" y="1050"/></g>
<g id="k20-11" class="kF"><ellipse cx="604" cy="1050" rx="17.5" ry="21.5"/><use href="#L" x="604" y="1050"/></g>
<g id="k20-12" class="kF"><ellipse cx="656" cy="1050" rx="17.5" ry="21.5"/><use href="#L" x="656" y="1050"/></g>
<g id="k21-1" class="kB"><ellipse cx="84" cy="1102" rx="17.5" ry="21.5"/><use href="#Rw" x="84" y="1102"/></g>
<g id="k21-2" class="kB"><ellipse cx="136" cy="1102" rx="17.5" ry="21.5"/><use href="#Rw" x="136" y="1102"/></g>
<g id="k21-3" class="kB"><ellipse cx="188" cy="1102" rx="17.5" ry="21.5"/><use href="#Rw" x="188" y="1102"/></g>
<g id="k21-4" class="kB"><ellipse cx="240" cy="1102" rx="17.5" ry="21.5"/><use href="#Rw" x="240" y="1102"/></g>
<g id="k21-5" class="kF"><ellipse cx="292" cy="1102" rx="17.5" ry="21.5"/><use href="#R" x="292" y="1102"/></g>
<g id="k21-6" class="kF"><ellipse cx="344" cy="1102" rx="17.5" ry="21.5"/><use href="#R" x="344" y="1102"/></g>
<g id="k21-7" class="kF"><ellipse cx="396" cy="1102" rx="17.5" ry="21.5"/><use href="#R" x="396" y="1102"/></g>
<g id="k21-8" class="kF"><ellipse cx="448" cy="1102" rx="17.5" ry="21.5"/><use href="#R" x="448" y="1102"/></g>
<g id="k21-9" class="kF"><ellipse cx="500" cy="1102" rx="17.5" ry="21.5"/><use href="#R" x="500" y="1102"/></g>
<g id="k21-10" class="kF"><ellipse cx="552" cy="1102" rx="17.5" ry="21.5"/><use href="#R" x="552" y="1102"/></g>
<g id="k21-11" class="kF"><ellipse cx="604" cy="1102" rx="17.5" ry="21.5"/><use href="#R" x="604" y="1102"/></g>
<g id="k21-12" class="kF"><ellipse cx="656" cy="1102" rx="17.5" ry="21.5"/><use href="#R" x="656" y="1102"/></g>
<g id="k22-1" class="kF"><ellipse cx="84" cy="1154" rx="17.5" ry="21.5"/><use href="#L" x="84" y="1154"/></g>
<g id="k22-2" class="kF"><ellipse cx="136" cy="1154" rx="17.5" ry="21.5"/><use href="#L" x="136" y="1154"/></g>
<g id="k22-3" class="kF"><ellipse cx="188" cy="1154" rx="17.5" ry="21.5"/><use href="#L" x="188" y="1154"/></g>
<g id="k22-4" class="kF"><ellipse cx="240" cy="1154" rx="17.5" ry="21.5"/><use href="#L" x="240" y="1154"/></g>
<g id="k22-5" class="kF"><ellipse cx="292" cy="1154" rx="17.5" ry="21.5"/><use href="#L" x="292" y="1154"/></g>
<g id="k22-6" class="kF"><ellipse cx="344" cy="1154" rx="17.5" ry="21.5"/><use href="#L" x="344" y="1154"/></g>
<g id="k22-7" class="kF"><ellipse cx="396" cy="1154" rx="17.5" ry="21.5"/><use href="#L" x="396" y="1154"/></g>
<g id="k22-8" class="kF"><ellipse cx="448" cy="1154" rx="17.5" ry="21.5"/><use href="#L" x="448" y="1154"/></g>
<g id="k22-9" class="kF"><ellipse cx="500" cy="1154" rx="17.5" ry="21.5"/><use href="#L" x="500" y="1154"/></g>
<g id="k22-10" class="kF"><ellipse cx="552" cy="1154" rx="17.5" ry="21.5"/><use href="#L" x="552" y="1154"/></g>
<g id="k22-11" class="kF"><ellipse cx="604" cy="1154" rx="17.5" ry="21.5"/><use href="#L" x="604" y="1154"/></g>
<g id="k22-12" class="kF"><ellipse cx="656" cy="1154" rx="17.5" ry="21.5"/><use href="#L" x="656" y="1154"/></g>
<g id="k23-1" class="kF"><ellipse cx="84" cy="1206" rx="17.5" ry="21.5"/><use href="#R" x="84" y="1206"/></g>
<g id="k23-2" class="kF"><ellipse cx="136" cy="1206" rx="17.5" ry="21.5"/><use href="#R" x="136" y="1206"/></g>
<g id="k23-3" class="kF"><ellipse cx="188" cy="1206" rx="17.5" ry="21.5"/><use href="#R" x="188" y="1206"/></g>
<g id="k23-4" class="kF"><ellipse cx="240" cy="1206" rx="17.5" ry="21.5"/><use href="#R" x="240" y="1206"/></g>
<g id="k23-5" class="kF"><ellipse cx="292" cy="1206" rx="17.5" ry="21.5"/><use href="#R" x="292" y="1206"/></g>
<g id="k23-6" class="kF"><ellipse cx="344" cy="1206" rx="17.5" ry="21.5"/><use href="#R" x="344" y="1206"/></g>
<g id="k23-7" class="kF"><ellipse cx="396" cy="1206" rx="17.5" ry="21.5"/><use href="#R" x="396" y="1206"/></g>
<g id="k23-8" class="kF"><ellipse cx="448" cy="1206" rx="17.5" ry="21.5"/><use href="#R" x="448" y="1206"/></g>
<g id="k23-9" class="kF"><ellipse cx="500" cy="1206" rx="17.5" ry="21.5"/><use href="#R" x="500" y="1206"/></g>
<g id="k23-10" class="kF"><ellipse cx="552" cy="1206" rx="17.5" ry="21.5"/><use href="#R" x="552" y="1206"/></g>
<g id="k23-11" class="kF"><ellipse cx="604" cy="1206" rx="17.5" ry="21.5"/><use href="#R" x="604" y="1206"/></g>
<g id="k23-12" class="kF"><ellipse cx="656" cy="1206" rx="17.5" ry="21.5"/><use href="#R" x="656" y="1206"/></g>
</g>
<text class="wm" x="370" y="665" text-anchor="middle">BRACELETBOOK.COM</text>
</svg>
